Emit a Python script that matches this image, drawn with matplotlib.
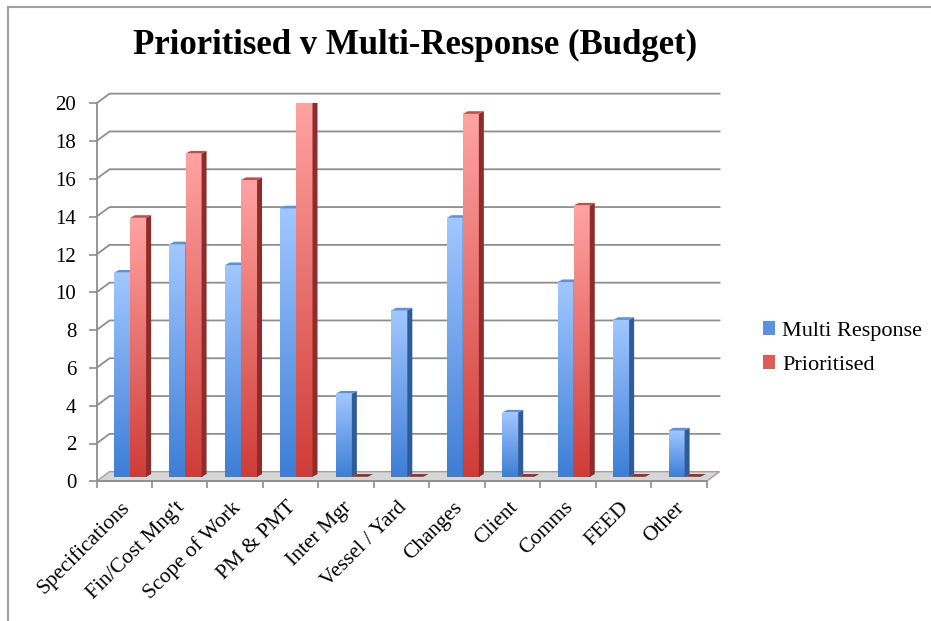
import numpy as np
import matplotlib.pyplot as plt
import matplotlib.transforms as mtransforms
from matplotlib.colors import LinearSegmentedColormap
from matplotlib.patches import Polygon, Patch
from matplotlib.lines import Line2D

# Daten
categories = ["Specifications", "Fin/Cost Mng't", "Scope of Work", "PM & PMT",
              "Inter Mgr", "Vessel / Yard", "Changes", "Client", "Comms",
              "FEED", "Other"]
multi_response = [10.8, 12.3, 11.2, 14.2, 4.4, 8.8, 13.7, 3.4, 10.3, 8.3, 2.45]
prioritised = [13.7, 17.1, 15.7, 19.8, 0, 0, 19.2, 0, 14.35, 0, 0]
y_ticks = list(range(0, 21, 2))

# Stil
W, H = 931, 621
BAR_W = 0.29
DEPTH_X, DEPTH_Y = 0.235, 0.51      # Tiefe der Rückwand (Datenkoordinaten)
MID_X, MID_Y = 0.105, 0.24          # Säulen in mittlerer Tiefe
SIDE_X, SIDE_Y = 0.09, 0.14         # Seitenfläche der Säulen
GRID = "#8e8e8e"

series = [
    (multi_response, "Multi Response", ["#3d7ed6", "#a2c7ff"], "#2f5c98", "#6390d0", "#5b92dc"),
    (prioritised, "Prioritised", ["#cf3c38", "#ffa3a1"], "#8e2c2c", "#b65252", "#e05a58"),
]

plt.rcParams["font.family"] = ["Liberation Serif", "DejaVu Serif"]

fig = plt.figure(figsize=(W / 100, H / 100), dpi=100)
ax = fig.add_axes([96.5 / W, (H - 481.3) / H, 610 / W, 378 / H])
n = len(categories)
ax.set_xlim(0, n)
ax.set_ylim(0, 20)

# Boden
floor = Polygon([(0, 0), (n, 0), (n + DEPTH_X, DEPTH_Y), (DEPTH_X, DEPTH_Y)],
                closed=True, facecolor="#d6d6d6", edgecolor="#a0a0a0", lw=1.0,
                zorder=1, clip_on=False)
ax.add_patch(floor)

# Gitterlinien an Seiten- und Rückwand
for v in y_ticks[1:]:
    ax.plot([0, DEPTH_X, n + DEPTH_X], [v, v + DEPTH_Y, v + DEPTH_Y],
            color=GRID, lw=1.3, zorder=1, clip_on=False)

x = np.arange(n)
for k, (vals, label, grad, side_c, top_c, _) in enumerate(series):
    cmap = LinearSegmentedColormap.from_list(label, grad)
    lefts = x + 0.5 - BAR_W + k * BAR_W + MID_X
    bars = ax.bar(lefts, vals, width=BAR_W, bottom=MID_Y, align="edge",
                  color="none", edgecolor="none", zorder=3 + k)
    for rect, v in zip(bars, vals):
        x0 = rect.get_x()
        x1 = x0 + rect.get_width()
        b = rect.get_y()
        t = b + v
        if v > 0:
            img = ax.imshow(np.linspace(0, 1, 200).reshape(-1, 1), cmap=cmap,
                            extent=(x0, x1, b, t), origin="lower",
                            aspect="auto", zorder=3 + k, clip_on=True)
            img.set_clip_path(rect)
            ax.add_patch(Polygon([(x1, b), (x1 + SIDE_X, b + SIDE_Y),
                                  (x1 + SIDE_X, t + SIDE_Y), (x1, t)],
                                 closed=True, facecolor=side_c, edgecolor="none",
                                 zorder=3 + k))
        ax.add_patch(Polygon([(x0, t), (x1, t), (x1 + SIDE_X, t + SIDE_Y),
                              (x0 + SIDE_X, t + SIDE_Y)],
                             closed=True, facecolor=top_c if v > 0 else side_c,
                             edgecolor="none", zorder=3 + k))

ax.set_xlim(0, n)
ax.set_ylim(0, 20)

# Achsen
for s in ["top", "right"]:
    ax.spines[s].set_visible(False)
for s in ["left", "bottom"]:
    ax.spines[s].set_color(GRID)
    ax.spines[s].set_linewidth(1.3)
ax.set_facecolor("none")

ax.set_yticks(y_ticks)
ax.set_yticklabels([str(v) for v in y_ticks], fontsize=15)
ax.tick_params(axis="y", length=5.5, width=1.2, color=GRID, pad=9)

ax.set_xticks(range(n + 1))
ax.set_xticklabels([])
ax.set_xticks(x + 0.5, minor=True)
ax.set_xticklabels(categories, minor=True, rotation=45, ha="right",
                   rotation_mode="anchor", fontsize=15.5)
ax.tick_params(axis="x", which="major", length=5, width=1.2, color=GRID)
ax.tick_params(axis="x", which="minor", length=0, pad=12)
shift = mtransforms.ScaledTranslation(-4 / 100, 0, fig.dpi_scale_trans)
for lbl in ax.get_xticklabels(minor=True):
    lbl.set_transform(lbl.get_transform() + shift)

# Legende
handles = [Patch(facecolor=s[5], edgecolor="none") for s in series]
fig.legend(handles, [s[1] for s in series], loc="center left",
           bbox_to_anchor=(743 / W, 1 - 348 / H), frameon=False, fontsize=16,
           handlelength=0.55, handleheight=0.55, handletextpad=0.3,
           labelspacing=0.65)

fig.text(0.446, 1 - 45 / H, "Prioritised v Multi-Response (Budget)",
         ha="center", va="center", fontsize=25, fontweight="bold")

# Rahmen (oben und links)
fig.add_artist(Line2D([8 / W, 1], [1 - 7 / H, 1 - 7 / H], color="#a0a0a0", lw=1.5))
fig.add_artist(Line2D([8 / W, 8 / W], [0, 1 - 7 / H], color="#a0a0a0", lw=1.5))

fig.savefig("out.png", dpi=100)
